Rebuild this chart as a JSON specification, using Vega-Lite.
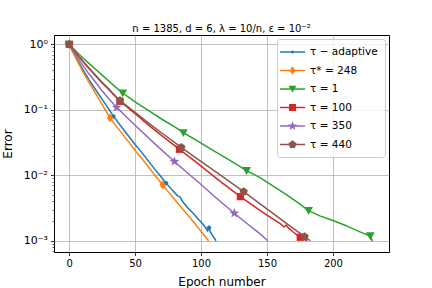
{
  "$schema": "https://vega.github.io/schema/vega-lite/v6.json",
  "width": 335,
  "height": 217,
  "autosize": {"type": "none"},
  "padding": {"left": 54, "top": 35, "right": 43, "bottom": 36},
  "background": "white",
  "config": {
    "font": "DejaVu Sans",
    "view": {"stroke": "black", "strokeWidth": 1},
    "axis": {
      "domain": false,
      "tickColor": "black",
      "tickWidth": 0.8,
      "tickSize": 3.5,
      "labelColor": "black",
      "labelFontSize": 10,
      "labelPadding": 3,
      "gridColor": "#b0b0b0",
      "gridWidth": 0.8,
      "titleFontSize": 12,
      "titleFontWeight": "normal",
      "titleColor": "black"
    },
    "legend": {
      "orient": "top-right",
      "offset": 4,
      "padding": 7,
      "strokeColor": "#cccccc",
      "fillColor": "rgba(255,255,255,0.8)",
      "cornerRadius": 3,
      "labelFontSize": 10.5,
      "labelColor": "black",
      "symbolSize": 144,
      "symbolStrokeWidth": 0,
      "rowPadding": 6.5,
      "labelOffset": 14
    }
  },
  "title": {
    "text": "n = 1385, d = 6, λ = 10/n,  ε = 10⁻²",
    "fontSize": 10,
    "fontWeight": "normal",
    "font": "DejaVu Sans",
    "color": "black",
    "offset": 1
  },
  "datasets": {
    "curves": [
      {"series": "τ − adaptive", "epoch": 0, "error": 1},
      {"series": "τ − adaptive", "epoch": 3, "error": 0.7586},
      {"series": "τ − adaptive", "epoch": 6, "error": 0.5889},
      {"series": "τ − adaptive", "epoch": 10, "error": 0.4266},
      {"series": "τ − adaptive", "epoch": 15, "error": 0.2884},
      {"series": "τ − adaptive", "epoch": 20, "error": 0.2042},
      {"series": "τ − adaptive", "epoch": 25, "error": 0.1445},
      {"series": "τ − adaptive", "epoch": 30, "error": 0.1023},
      {"series": "τ − adaptive", "epoch": 33.6, "error": 0.07943},
      {"series": "τ − adaptive", "epoch": 40, "error": 0.0537},
      {"series": "τ − adaptive", "epoch": 45, "error": 0.03981},
      {"series": "τ − adaptive", "epoch": 50, "error": 0.02951},
      {"series": "τ − adaptive", "epoch": 55, "error": 0.02239},
      {"series": "τ − adaptive", "epoch": 60, "error": 0.0166},
      {"series": "τ − adaptive", "epoch": 65, "error": 0.0123},
      {"series": "τ − adaptive", "epoch": 70, "error": 0.009333},
      {"series": "τ − adaptive", "epoch": 73.5, "error": 0.007586},
      {"series": "τ − adaptive", "epoch": 78, "error": 0.006026},
      {"series": "τ − adaptive", "epoch": 82, "error": 0.004898},
      {"series": "τ − adaptive", "epoch": 84, "error": 0.0047},
      {"series": "τ − adaptive", "epoch": 86, "error": 0.003981},
      {"series": "τ − adaptive", "epoch": 90, "error": 0.003162},
      {"series": "τ − adaptive", "epoch": 94, "error": 0.00263},
      {"series": "τ − adaptive", "epoch": 98, "error": 0.002138},
      {"series": "τ − adaptive", "epoch": 102, "error": 0.001738},
      {"series": "τ − adaptive", "epoch": 105, "error": 0.001413},
      {"series": "τ − adaptive", "epoch": 106, "error": 0.001585},
      {"series": "τ − adaptive", "epoch": 107, "error": 0.00138},
      {"series": "τ − adaptive", "epoch": 109, "error": 0.001175},
      {"series": "τ − adaptive", "epoch": 111.4, "error": 0.001},
      {"series": "τ* = 248", "epoch": 0, "error": 1},
      {"series": "τ* = 248", "epoch": 3, "error": 0.7413},
      {"series": "τ* = 248", "epoch": 6, "error": 0.5624},
      {"series": "τ* = 248", "epoch": 10, "error": 0.3981},
      {"series": "τ* = 248", "epoch": 15, "error": 0.263},
      {"series": "τ* = 248", "epoch": 20, "error": 0.1778},
      {"series": "τ* = 248", "epoch": 25, "error": 0.1202},
      {"series": "τ* = 248", "epoch": 31, "error": 0.07499},
      {"series": "τ* = 248", "epoch": 35, "error": 0.05889},
      {"series": "τ* = 248", "epoch": 40, "error": 0.04365},
      {"series": "τ* = 248", "epoch": 45, "error": 0.03236},
      {"series": "τ* = 248", "epoch": 50, "error": 0.02399},
      {"series": "τ* = 248", "epoch": 55, "error": 0.0182},
      {"series": "τ* = 248", "epoch": 60, "error": 0.01349},
      {"series": "τ* = 248", "epoch": 65, "error": 0.01},
      {"series": "τ* = 248", "epoch": 70.9, "error": 0.007112},
      {"series": "τ* = 248", "epoch": 75, "error": 0.005624},
      {"series": "τ* = 248", "epoch": 80, "error": 0.004266},
      {"series": "τ* = 248", "epoch": 85, "error": 0.003236},
      {"series": "τ* = 248", "epoch": 90, "error": 0.002455},
      {"series": "τ* = 248", "epoch": 95, "error": 0.001862},
      {"series": "τ* = 248", "epoch": 100, "error": 0.00138},
      {"series": "τ* = 248", "epoch": 105.7, "error": 0.001},
      {"series": "τ = 1", "epoch": 0, "error": 1},
      {"series": "τ = 1", "epoch": 5, "error": 0.7943},
      {"series": "τ = 1", "epoch": 10, "error": 0.631},
      {"series": "τ = 1", "epoch": 15, "error": 0.5129},
      {"series": "τ = 1", "epoch": 20, "error": 0.4169},
      {"series": "τ = 1", "epoch": 25, "error": 0.3388},
      {"series": "τ = 1", "epoch": 30, "error": 0.2754},
      {"series": "τ = 1", "epoch": 35, "error": 0.2239},
      {"series": "τ = 1", "epoch": 40.6, "error": 0.1807},
      {"series": "τ = 1", "epoch": 50, "error": 0.1318},
      {"series": "τ = 1", "epoch": 60, "error": 0.09772},
      {"series": "τ = 1", "epoch": 70, "error": 0.07244},
      {"series": "τ = 1", "epoch": 80, "error": 0.05495},
      {"series": "τ = 1", "epoch": 86.6, "error": 0.04467},
      {"series": "τ = 1", "epoch": 100, "error": 0.0309},
      {"series": "τ = 1", "epoch": 110, "error": 0.02344},
      {"series": "τ = 1", "epoch": 120, "error": 0.01778},
      {"series": "τ = 1", "epoch": 134.5, "error": 0.01175},
      {"series": "τ = 1", "epoch": 145, "error": 0.00912},
      {"series": "τ = 1", "epoch": 155, "error": 0.006761},
      {"series": "τ = 1", "epoch": 165, "error": 0.005012},
      {"series": "τ = 1", "epoch": 175, "error": 0.003631},
      {"series": "τ = 1", "epoch": 181.5, "error": 0.002884},
      {"series": "τ = 1", "epoch": 190, "error": 0.002399},
      {"series": "τ = 1", "epoch": 200, "error": 0.002042},
      {"series": "τ = 1", "epoch": 210, "error": 0.001698},
      {"series": "τ = 1", "epoch": 220, "error": 0.00138},
      {"series": "τ = 1", "epoch": 228.3, "error": 0.001183},
      {"series": "τ = 1", "epoch": 230, "error": 0.0009772},
      {"series": "τ = 100", "epoch": 0, "error": 1},
      {"series": "τ = 100", "epoch": 5, "error": 0.7413},
      {"series": "τ = 100", "epoch": 10, "error": 0.5624},
      {"series": "τ = 100", "epoch": 15, "error": 0.4266},
      {"series": "τ = 100", "epoch": 20, "error": 0.3311},
      {"series": "τ = 100", "epoch": 25, "error": 0.257},
      {"series": "τ = 100", "epoch": 30, "error": 0.2042},
      {"series": "τ = 100", "epoch": 38.5, "error": 0.1349},
      {"series": "τ = 100", "epoch": 50, "error": 0.0871},
      {"series": "τ = 100", "epoch": 60, "error": 0.05889},
      {"series": "τ = 100", "epoch": 70, "error": 0.04074},
      {"series": "τ = 100", "epoch": 83.6, "error": 0.02495},
      {"series": "τ = 100", "epoch": 95, "error": 0.0166},
      {"series": "τ = 100", "epoch": 105, "error": 0.01148},
      {"series": "τ = 100", "epoch": 115, "error": 0.007943},
      {"series": "τ = 100", "epoch": 129.8, "error": 0.00471},
      {"series": "τ = 100", "epoch": 140, "error": 0.003388},
      {"series": "τ = 100", "epoch": 150, "error": 0.002455},
      {"series": "τ = 100", "epoch": 160, "error": 0.00182},
      {"series": "τ = 100", "epoch": 163, "error": 0.001622},
      {"series": "τ = 100", "epoch": 164.5, "error": 0.001738},
      {"series": "τ = 100", "epoch": 166, "error": 0.001585},
      {"series": "τ = 100", "epoch": 170, "error": 0.001349},
      {"series": "τ = 100", "epoch": 175.2, "error": 0.00113},
      {"series": "τ = 100", "epoch": 180.5, "error": 0.001},
      {"series": "τ = 350", "epoch": 0, "error": 1},
      {"series": "τ = 350", "epoch": 5, "error": 0.6918},
      {"series": "τ = 350", "epoch": 10, "error": 0.4898},
      {"series": "τ = 350", "epoch": 15, "error": 0.3548},
      {"series": "τ = 350", "epoch": 20, "error": 0.263},
      {"series": "τ = 350", "epoch": 25, "error": 0.195},
      {"series": "τ = 350", "epoch": 30, "error": 0.1479},
      {"series": "τ = 350", "epoch": 36, "error": 0.1092},
      {"series": "τ = 350", "epoch": 45, "error": 0.07244},
      {"series": "τ = 350", "epoch": 55, "error": 0.04677},
      {"series": "τ = 350", "epoch": 65, "error": 0.0302},
      {"series": "τ = 350", "epoch": 79.8, "error": 0.01622},
      {"series": "τ = 350", "epoch": 90, "error": 0.01072},
      {"series": "τ = 350", "epoch": 100, "error": 0.007244},
      {"series": "τ = 350", "epoch": 110, "error": 0.004786},
      {"series": "τ = 350", "epoch": 125.2, "error": 0.00263},
      {"series": "τ = 350", "epoch": 135, "error": 0.00182},
      {"series": "τ = 350", "epoch": 140, "error": 0.001514},
      {"series": "τ = 350", "epoch": 145, "error": 0.001259},
      {"series": "τ = 350", "epoch": 150.5, "error": 0.001},
      {"series": "τ = 440", "epoch": 0, "error": 1},
      {"series": "τ = 440", "epoch": 5, "error": 0.7499},
      {"series": "τ = 440", "epoch": 10, "error": 0.5689},
      {"series": "τ = 440", "epoch": 15, "error": 0.4365},
      {"series": "τ = 440", "epoch": 20, "error": 0.3388},
      {"series": "τ = 440", "epoch": 25, "error": 0.263},
      {"series": "τ = 440", "epoch": 30, "error": 0.2089},
      {"series": "τ = 440", "epoch": 38.5, "error": 0.138},
      {"series": "τ = 440", "epoch": 50, "error": 0.0912},
      {"series": "τ = 440", "epoch": 60, "error": 0.0631},
      {"series": "τ = 440", "epoch": 70, "error": 0.04467},
      {"series": "τ = 440", "epoch": 85, "error": 0.02673},
      {"series": "τ = 440", "epoch": 95, "error": 0.01905},
      {"series": "τ = 440", "epoch": 105, "error": 0.0138},
      {"series": "τ = 440", "epoch": 115, "error": 0.01},
      {"series": "τ = 440", "epoch": 132.3, "error": 0.005624},
      {"series": "τ = 440", "epoch": 145, "error": 0.003631},
      {"series": "τ = 440", "epoch": 155, "error": 0.00257},
      {"series": "τ = 440", "epoch": 165, "error": 0.00182},
      {"series": "τ = 440", "epoch": 178.5, "error": 0.001156},
      {"series": "τ = 440", "epoch": 182.8, "error": 0.001}
    ],
    "markers": [
      {"series": "τ − adaptive", "epoch": 0, "error": 1},
      {"series": "τ − adaptive", "epoch": 33.6, "error": 0.07943},
      {"series": "τ − adaptive", "epoch": 73.5, "error": 0.007586},
      {"series": "τ − adaptive", "epoch": 106, "error": 0.001585},
      {"series": "τ* = 248", "epoch": 0, "error": 1},
      {"series": "τ* = 248", "epoch": 31, "error": 0.07499},
      {"series": "τ* = 248", "epoch": 70.9, "error": 0.007112},
      {"series": "τ = 1", "epoch": 0, "error": 1},
      {"series": "τ = 1", "epoch": 40.6, "error": 0.1807},
      {"series": "τ = 1", "epoch": 86.6, "error": 0.04467},
      {"series": "τ = 1", "epoch": 134.5, "error": 0.01175},
      {"series": "τ = 1", "epoch": 181.5, "error": 0.002884},
      {"series": "τ = 1", "epoch": 228.3, "error": 0.001183},
      {"series": "τ = 100", "epoch": 0, "error": 1},
      {"series": "τ = 100", "epoch": 38.5, "error": 0.1349},
      {"series": "τ = 100", "epoch": 83.6, "error": 0.02495},
      {"series": "τ = 100", "epoch": 129.8, "error": 0.00471},
      {"series": "τ = 100", "epoch": 175.2, "error": 0.00113},
      {"series": "τ = 350", "epoch": 0, "error": 1},
      {"series": "τ = 350", "epoch": 36, "error": 0.1092},
      {"series": "τ = 350", "epoch": 79.8, "error": 0.01622},
      {"series": "τ = 350", "epoch": 125.2, "error": 0.00263},
      {"series": "τ = 440", "epoch": 0, "error": 1},
      {"series": "τ = 440", "epoch": 38.5, "error": 0.138},
      {"series": "τ = 440", "epoch": 85, "error": 0.02673},
      {"series": "τ = 440", "epoch": 132.3, "error": 0.005624},
      {"series": "τ = 440", "epoch": 178.5, "error": 0.001156}
    ]
  },
  "resolve": {"axis": {"y": "independent"}},
  "layer": [
    {
      "data": {"name": "curves"},
      "mark": {"type": "line", "strokeWidth": 1.5, "clip": true},
      "encoding": {
        "x": {
          "field": "epoch", "type": "quantitative",
          "scale": {"domain": [-11.5, 242.5], "nice": false, "zero": false},
          "axis": {"values": [0, 50, 100, 150, 200], "title": "Epoch number", "titlePadding": 8}
        },
        "y": {
          "field": "error", "type": "quantitative",
          "scale": {"type": "log", "domain": [0.000673, 1.39], "nice": false},
          "axis": {
            "values": [1, 0.1, 0.01, 0.001],
            "labelExpr": "datum.value > 0.5 ? '10⁰' : datum.value > 0.05 ? '10⁻¹' : datum.value > 0.005 ? '10⁻²' : '10⁻³'",
            "labelFontSize": 11,
            "title": "Error",
            "titlePadding": 9
          }
        },
        "color": {
          "field": "series", "type": "nominal",
          "scale": {
            "domain": ["τ − adaptive", "τ* = 248", "τ = 1", "τ = 100", "τ = 350", "τ = 440"],
            "range": ["#1f77b4", "#ff7f0e", "#2ca02c", "#d62728", "#9467bd", "#8c564b"]
          },
          "legend": {"title": null}
        }
      }
    },
    {
      "data": {"name": "markers"},
      "transform": [{"filter": "datum.epoch < -1000"}],
      "mark": {"type": "point", "filled": true, "opacity": 1, "clip": true},
      "encoding": {
        "x": {"field": "epoch", "type": "quantitative"},
        "y": {
          "field": "error", "type": "quantitative",
          "axis": {
            "orient": "left",
            "values": [0.0007, 0.0008, 0.0009, 0.002, 0.003, 0.004, 0.005, 0.006, 0.007, 0.008, 0.009, 0.02, 0.03, 0.04, 0.05, 0.06, 0.07, 0.08, 0.09, 0.2, 0.3, 0.4, 0.5, 0.6, 0.7, 0.8, 0.9],
            "labels": false,
            "grid": false,
            "tickSize": 2,
            "tickWidth": 0.6,
            "title": null
          }
        },
        "color": {"field": "series", "type": "nominal", "legend": {"title": null}},
        "shape": {
          "field": "series", "type": "nominal",
          "scale": {
            "domain": ["τ − adaptive", "τ* = 248", "τ = 1", "τ = 100", "τ = 350", "τ = 440"],
            "range": [
              "M-1.67,-0.125H2.5V0.125H-1.67ZM0.67,0A0.25,0.25,0,1,1,0.17,0A0.25,0.25,0,1,1,0.67,0Z",
              "M-1.67,-0.125H2.5V0.125H-1.67ZM0.42,-0.7L0.92,0L0.42,0.7L-0.08,0Z",
              "M-1.67,-0.125H2.5V0.125H-1.67ZM-0.25,-0.55L1.09,-0.55L0.42,0.6Z",
              "M-1.67,-0.125H2.5V0.125H-1.67ZM-0.16,-0.58H1V0.58H-0.16Z",
              "M-1.67,-0.125H2.5V0.125H-1.67ZM0.42,-0.83L0.614,-0.267L1.209,-0.256L0.734,0.102L0.908,0.671L0.42,0.33L-0.068,0.671L0.106,0.102L-0.369,-0.256L0.226,-0.267Z",
              "M-1.67,-0.125H2.5V0.125H-1.67ZM0.42,-0.7L1.086,-0.216L0.831,0.566L0.009,0.566L-0.246,-0.216Z"
            ]
          },
          "legend": {"title": null}
        }
      }
    },
    {
      "data": {"name": "markers"},
      "transform": [{"filter": "datum.series === 'τ − adaptive'"}],
      "mark": {"type": "point", "filled": true, "opacity": 1, "size": 64, "color": "#1f77b4", "clip": true,
               "shape": "M0.55,0A0.55,0.55,0,1,1,-0.55,0A0.55,0.55,0,1,1,0.55,0Z"},
      "encoding": {
        "x": {"field": "epoch", "type": "quantitative"},
        "y": {"field": "error", "type": "quantitative", "axis": null}
      }
    },
    {
      "data": {"name": "markers"},
      "transform": [{"filter": "datum.series === 'τ* = 248'"}],
      "mark": {"type": "point", "filled": true, "opacity": 1, "size": 64, "color": "#ff7f0e", "clip": true,
               "shape": "M0,-1.15L0.8,0L0,1.15L-0.8,0Z"},
      "encoding": {
        "x": {"field": "epoch", "type": "quantitative"},
        "y": {"field": "error", "type": "quantitative", "axis": null}
      }
    },
    {
      "data": {"name": "markers"},
      "transform": [{"filter": "datum.series === 'τ = 1'"}],
      "mark": {"type": "point", "filled": true, "opacity": 1, "size": 64, "color": "#2ca02c", "clip": true,
               "shape": "M-1.1,-0.9L1.1,-0.9L0,1.05Z"},
      "encoding": {
        "x": {"field": "epoch", "type": "quantitative"},
        "y": {"field": "error", "type": "quantitative", "axis": null}
      }
    },
    {
      "data": {"name": "markers"},
      "transform": [{"filter": "datum.series === 'τ = 100'"}],
      "mark": {"type": "point", "filled": true, "opacity": 1, "size": 64, "color": "#d62728", "clip": true,
               "shape": "M-0.9,-0.9H0.9V0.9H-0.9Z"},
      "encoding": {
        "x": {"field": "epoch", "type": "quantitative"},
        "y": {"field": "error", "type": "quantitative", "axis": null}
      }
    },
    {
      "data": {"name": "markers"},
      "transform": [{"filter": "datum.series === 'τ = 350'"}],
      "mark": {"type": "point", "filled": true, "opacity": 1, "size": 64, "color": "#9467bd", "clip": true,
               "shape": "M0,-1.3L0.31,-0.42L1.24,-0.4L0.5,0.16L0.76,1.05L0,0.52L-0.76,1.05L-0.5,0.16L-1.24,-0.4L-0.31,-0.42Z"},
      "encoding": {
        "x": {"field": "epoch", "type": "quantitative"},
        "y": {"field": "error", "type": "quantitative", "axis": null}
      }
    },
    {
      "data": {"name": "markers"},
      "transform": [{"filter": "datum.series === 'τ = 440'"}],
      "mark": {"type": "point", "filled": true, "opacity": 1, "size": 64, "color": "#8c564b", "clip": true,
               "shape": "M0,-1.1L1.046,-0.34L0.647,0.89L-0.647,0.89L-1.046,-0.34Z"},
      "encoding": {
        "x": {"field": "epoch", "type": "quantitative"},
        "y": {"field": "error", "type": "quantitative", "axis": null}
      }
    }
  ]
}
